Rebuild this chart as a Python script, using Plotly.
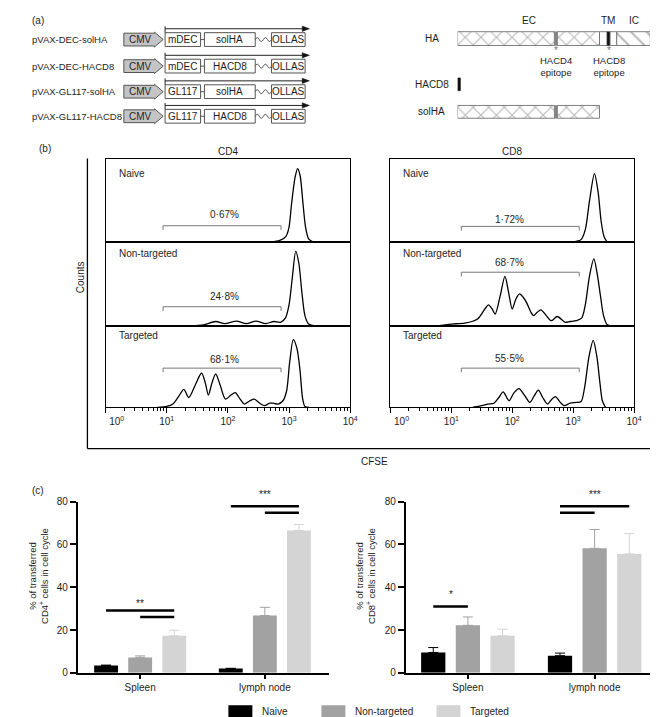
import math
import plotly.graph_objects as go

W, H = 658, 717
FONT = "Liberation Sans, Arial, Helvetica, sans-serif"
INK = "#1e1e1e"

# ------------------------------------------------------------------ (a) data
CONSTRUCT_NAMES = ["pVAX-DEC-solHA", "pVAX-DEC-HACD8", "pVAX-GL117-solHA", "pVAX-GL117-HACD8"]
CONSTRUCT_TARGETING = ["mDEC", "mDEC", "GL117", "GL117"]
CONSTRUCT_ANTIGEN = ["solHA", "HACD8", "solHA", "HACD8"]
PROMOTER = "CMV"
TAG = "OLLAS"

PROTEIN_NAMES = ["HA", "HACD8", "solHA"]
PROTEIN_SEGMENT_KINDS = [
    ["EC", "CD4ep", "EC", "TM", "CD8ep", "TM", "IC"],
    ["CD8ep"],
    ["EC", "CD4ep", "EC"],
]
PROTEIN_SEGMENT_LENGTHS = [
    [101, 3, 44, 8, 3, 7, 35],
    [3],
    [101, 3, 44],
]
REGION_OF_KIND = {"EC": "EC", "CD4ep": "EC", "TM": "TM", "CD8ep": "TM", "IC": "IC"}
REGION_LABELS = ["EC", "TM", "IC"]
EPITOPE_KINDS = ["CD4ep", "CD8ep"]
EPITOPE_LABELS = ["HACD4<br>epitope", "HACD8<br>epitope"]

# ------------------------------------------------------------------ (b) data
GROUPS = ["Naive", "Non-targeted", "Targeted"]
CFSE_TICK_EXP = [0, 1, 2, 3, 4]

CD4_NAIVE_LOG = [2.70, 2.85, 2.95, 3.00, 3.04, 3.10, 3.14, 3.18, 3.23, 3.27, 3.32, 3.40]
CD4_NAIVE_H = [0.00, 0.02, 0.07, 0.18, 0.45, 0.78, 0.88, 0.80, 0.45, 0.18, 0.04, 0.00]

CD4_NONT_LOG = [1.40, 1.60, 1.80, 1.95, 2.14, 2.30, 2.46, 2.62, 2.75, 2.86, 2.94, 3.00, 3.05, 3.11, 3.16, 3.21, 3.26, 3.32, 3.40]
CD4_NONT_H = [0.00, 0.01, 0.05, 0.025, 0.055, 0.025, 0.055, 0.025, 0.05, 0.04, 0.09, 0.25, 0.55, 0.89, 0.75, 0.40, 0.12, 0.02, 0.00]

CD4_TARG_LOG = [0.85, 1.00, 1.10, 1.20, 1.28, 1.36, 1.47, 1.57, 1.63, 1.68, 1.74, 1.80, 1.87, 1.96, 2.05, 2.12, 2.20, 2.27, 2.36, 2.43,
                2.52, 2.60, 2.68, 2.74, 2.82, 2.90, 2.96, 3.01, 3.07, 3.13, 3.18, 3.22, 3.26, 3.33]
CD4_TARG_H = [0.00, 0.01, 0.04, 0.14, 0.22, 0.12, 0.28, 0.42, 0.30, 0.15, 0.30, 0.41, 0.28, 0.10, 0.15, 0.18, 0.10, 0.04, 0.08, 0.10,
              0.05, 0.02, 0.05, 0.05, 0.04, 0.08, 0.20, 0.55, 0.83, 0.72, 0.45, 0.12, 0.01, 0.00]

CD8_NAIVE_LOG = [2.90, 3.05, 3.13, 3.20, 3.27, 3.35, 3.41, 3.46, 3.51, 3.56]
CD8_NAIVE_H = [0.00, 0.01, 0.03, 0.15, 0.50, 0.82, 0.60, 0.25, 0.06, 0.00]

CD8_NONT_LOG = [0.80, 1.00, 1.22, 1.43, 1.55, 1.61, 1.67, 1.72, 1.80, 1.88, 1.94, 2.00, 2.06, 2.12, 2.18, 2.24, 2.30, 2.35, 2.41, 2.47,
                2.55, 2.64, 2.74, 2.87, 2.95, 3.05, 3.14, 3.20, 3.27, 3.34, 3.40, 3.45, 3.50, 3.56, 3.62]
CD8_NONT_H = [0.00, 0.02, 0.03, 0.08, 0.20, 0.25, 0.20, 0.14, 0.35, 0.59, 0.40, 0.20, 0.32, 0.38, 0.34, 0.27, 0.17, 0.12, 0.16, 0.19,
              0.13, 0.06, 0.11, 0.04, 0.05, 0.06, 0.09, 0.25, 0.60, 0.80, 0.60, 0.35, 0.12, 0.01, 0.00]

CD8_TARG_LOG = [1.35, 1.50, 1.60, 1.70, 1.78, 1.85, 1.91, 1.95, 2.03, 2.11, 2.20, 2.29, 2.36, 2.43, 2.50, 2.58, 2.65, 2.71, 2.78, 2.85,
                2.95, 3.05, 3.13, 3.19, 3.26, 3.33, 3.39, 3.44, 3.48, 3.53]
CD8_TARG_H = [0.00, 0.02, 0.04, 0.05, 0.12, 0.19, 0.12, 0.08, 0.18, 0.23, 0.15, 0.06, 0.14, 0.21, 0.12, 0.04, 0.10, 0.13, 0.07, 0.02,
              0.05, 0.06, 0.07, 0.25, 0.62, 0.82, 0.62, 0.30, 0.08, 0.00]

CD4_GATE = [8.7, 740]
CD8_GATE = [14.6, 1260]
CD4_PCT = ["0·67%", "24·8%", "68·1%"]
CD8_PCT = ["1·72%", "68·7%", "55·5%"]

# ------------------------------------------------------------------ (c) data
TISSUES = ["Spleen", "lymph node"]
CD4_NAIVE_MEAN = [3.4, 2.0]
CD4_NONT_MEAN = [7.2, 26.8]
CD4_TARG_MEAN = [17.3, 66.5]
CD4_NAIVE_SEM = [0.2, 0.1]
CD4_NONT_SEM = [0.7, 3.8]
CD4_TARG_SEM = [2.6, 2.8]

CD8_NAIVE_MEAN = [9.5, 8.0]
CD8_NONT_MEAN = [22.2, 58.2]
CD8_TARG_MEAN = [17.3, 55.6]
CD8_NAIVE_SEM = [2.3, 1.2]
CD8_NONT_SEM = [3.9, 8.8]
CD8_TARG_SEM = [3.1, 9.5]

# significance: (tissue index, group a, group b, bar height)
CD4_SIG = [(0, 0, 2, 29.1), (0, 1, 2, 26.1), (1, 0, 2, 77.9), (1, 1, 2, 74.8)]
CD4_STARS = [(0, "**", 34.0), (1, "***", 84.6)]
CD8_SIG = [(0, 0, 1, 31.0), (1, 0, 2, 77.9), (1, 0, 1, 74.8)]
CD8_STARS = [(0, "*", 38.2), (1, "***", 84.6)]

GROUP_COLORS = ["#000000", "#a2a2a2", "#d4d4d4"]

# ------------------------------------------------------------------ helpers
def PX(x):
    return x / W


def PY(y):
    return 1 - y / H


def note(x, y, text, xref="paper", yref="paper", size=10, xanchor="center",
         yanchor="middle", color=INK, angle=0, **kw):
    d = dict(x=x, y=y, text=text, xref=xref, yref=yref, showarrow=False,
             font=dict(family=FONT, size=size, color=color),
             xanchor=xanchor, yanchor=yanchor, textangle=angle)
    d.update(kw)
    return d


fig = go.Figure()
shapes = []
annotations = []
layout = dict(
    width=W, height=H, margin=dict(l=0, r=0, t=0, b=0),
    paper_bgcolor="white", plot_bgcolor="white", showlegend=False,
    barmode="group", bargap=0.18, bargroupgap=0.3,
    font=dict(family=FONT, size=10, color=INK),
)

# ------------------------------------------------------------------ (a) constructs
ROW_Y = [26, 53, 79, 104]
BOX_LINE = dict(color="#555555", width=1)
for i, name in enumerate(CONSTRUCT_NAMES):
    yc = ROW_Y[i]
    annotations.append(note(PX(3), PY(yc), name, xanchor="left", size=9.5))
    pts = [(101, yc - 6.5), (133, yc - 6.5), (133, yc - 7.5), (142, yc), (133, yc + 7.5),
           (133, yc + 6.5), (101, yc + 6.5)]
    path = "M" + " L".join(f"{PX(a):.5f},{PY(b):.5f}" for a, b in pts) + " Z"
    shapes.append(dict(type="path", path=path, xref="paper", yref="paper",
                       fillcolor="#c4c4c4", line=dict(color="#555555", width=1)))
    annotations.append(note(PX(118), PY(yc), PROMOTER, size=10))
    for (x0, x1, txt) in [(144, 181, CONSTRUCT_TARGETING[i]), (185, 238, CONSTRUCT_ANTIGEN[i]), (255, 290, TAG)]:
        shapes.append(dict(type="rect", xref="paper", yref="paper", x0=PX(x0), x1=PX(x1),
                           y0=PY(yc - 7), y1=PY(yc + 7), fillcolor="white", line=BOX_LINE))
        annotations.append(note(PX((x0 + x1) / 2), PY(yc), txt, size=10))
    shapes.append(dict(type="line", xref="paper", yref="paper", x0=PX(181), x1=PX(185),
                       y0=PY(yc), y1=PY(yc), line=BOX_LINE))
    wp = f"M{PX(238):.5f},{PY(yc):.5f}"
    xs = 238
    for k in range(4):
        dy = -4 if k % 2 == 0 else 4
        wp += f" Q{PX(xs + 2.1):.5f},{PY(yc + dy):.5f} {PX(xs + 4.25):.5f},{PY(yc):.5f}"
        xs += 4.25
    shapes.append(dict(type="path", path=wp, xref="paper", yref="paper", line=BOX_LINE))
    shapes.append(dict(type="line", xref="paper", yref="paper", x0=PX(144), x1=PX(144),
                       y0=PY(yc - 13.5), y1=PY(yc - 7), line=dict(color="#222", width=1)))
    shapes.append(dict(type="line", xref="paper", yref="paper", x0=PX(144), x1=PX(288),
                       y0=PY(yc - 11), y1=PY(yc - 11), line=dict(color="#222", width=1)))
    tri = (f"M{PX(287):.5f},{PY(yc - 13.7):.5f} L{PX(294.5):.5f},{PY(yc - 11):.5f} "
           f"L{PX(287):.5f},{PY(yc - 8.3):.5f} Z")
    shapes.append(dict(type="path", path=tri, xref="paper", yref="paper",
                       fillcolor="#111", line=dict(color="#111", width=0.5)))

# ------------------------------------------------------------------ (a) proteins
PROT_X0, PROT_X1 = 449, 650          # pixel extent of the protein axis
PROT_RANGE = [0, 201]
PROTEIN_ROW_Y = [25, 71.5, 99.5]
PROTEIN_BAR_H = [14, 13, 13]
PROTEIN_LABEL_X = 422
HATCH = dict(fgcolor="#6e6e6e", bgcolor="white", size=11, solidity=0.18)
SEG_STYLE = {
    "EC": dict(color="white", pattern=dict(shape="x", **HATCH), line=dict(color="#707070", width=0.9)),
    "CD4ep": dict(color="#858585", line=dict(color="#858585", width=0.5)),
    "TM": dict(color="white", line=dict(color="#707070", width=0.9)),
    "CD8ep": dict(color="#111111", line=dict(color="#111111", width=0.5)),
    "IC": dict(color="white", pattern=dict(shape="\\", **HATCH), line=dict(color="#707070", width=0.9)),
}


def prot_px(u):
    return PROT_X0 + (u - PROT_RANGE[0]) / (PROT_RANGE[1] - PROT_RANGE[0]) * (PROT_X1 - PROT_X0)


for pi, pname in enumerate(PROTEIN_NAMES):
    base = 0
    for kind, length in zip(PROTEIN_SEGMENT_KINDS[pi], PROTEIN_SEGMENT_LENGTHS[pi]):
        fig.add_trace(go.Bar(orientation="h", y=[PROTEIN_ROW_Y[pi]], x=[length], base=[base],
                             width=PROTEIN_BAR_H[pi], offset=-PROTEIN_BAR_H[pi] / 2,
                             marker=SEG_STYLE[kind], xaxis="x9", yaxis="y9",
                             hoverinfo="skip"))
        base += length
    annotations.append(note(PX(PROTEIN_LABEL_X), PY(PROTEIN_ROW_Y[pi]), pname, size=10))

ha_kinds, ha_len = PROTEIN_SEGMENT_KINDS[0], PROTEIN_SEGMENT_LENGTHS[0]
starts = [sum(ha_len[:j]) for j in range(len(ha_len))]
for reg in REGION_LABELS:
    lo = min(s for s, k in zip(starts, ha_kinds) if REGION_OF_KIND[k] == reg)
    hi = max(s + l for s, l, k in zip(starts, ha_len, ha_kinds) if REGION_OF_KIND[k] == reg)
    annotations.append(note(PX(prot_px((lo + hi) / 2)), PY(7), reg, size=10))
for ek, elab in zip(EPITOPE_KINDS, EPITOPE_LABELS):
    j = ha_kinds.index(ek)
    cx = prot_px(starts[j] + ha_len[j] / 2)
    annotations.append(note(PX(cx), PY(37), "*", size=10, color="#777"))
    annotations.append(note(PX(cx), PY(53), elab, size=9.5))

layout["xaxis9"] = dict(domain=[PX(PROT_X0), PX(PROT_X1)], range=PROT_RANGE, visible=False, anchor="y9")
layout["yaxis9"] = dict(domain=[PY(120), PY(0)], range=[120, 0], visible=False, anchor="x9")

# ------------------------------------------------------------------ (b) histograms
HISTS = [
    [(CD4_NAIVE_LOG, CD4_NAIVE_H), (CD4_NONT_LOG, CD4_NONT_H), (CD4_TARG_LOG, CD4_TARG_H)],
    [(CD8_NAIVE_LOG, CD8_NAIVE_H), (CD8_NONT_LOG, CD8_NONT_H), (CD8_TARG_LOG, CD8_TARG_H)],
]
GATES = [CD4_GATE, CD8_GATE]
PCTS = [CD4_PCT, CD8_PCT]
TITLES = ["CD4", "CD8"]
COL_X = [(82, 337), (379, 633)]
ROW_YS = [(147, 232), (232, 317), (317, 400)]
GATE_H = [[0.196, 0.227, 0.48], [0.188, 0.64, 0.48]]
PCT_H = [[0.333, 0.345, 0.58], [0.275, 0.753, 0.60]]
PCT_LOGX = [1.94, 1.96]
GROUP_LABEL_H = [0.82, 0.86, 0.88]

MAJOR = [10 ** e for e in CFSE_TICK_EXP]
MAJOR_TXT = [("\u00a0" * 8 if j == 0 else "") + f"10<sup>{e}</sup>" for j, e in enumerate(CFSE_TICK_EXP)]
MINOR = [m * 10 ** e for e in CFSE_TICK_EXP[:-1] for m in range(2, 10)]

for c in range(2):
    for r in range(3):
        k = c * 3 + r + 1
        xk = "x" if k == 1 else f"x{k}"
        yk = "y" if k == 1 else f"y{k}"
        xa = "xaxis" if k == 1 else f"xaxis{k}"
        ya = "yaxis" if k == 1 else f"yaxis{k}"
        xd = dict(type="log", range=[0, 4], domain=[PX(COL_X[c][0]), PX(COL_X[c][1])], anchor=yk,
                  showline=True, linecolor="black", linewidth=1.2, mirror=True,
                  showgrid=False, zeroline=False)
        if r == 2:
            xd.update(tickmode="array", tickvals=MAJOR, ticktext=MAJOR_TXT, ticks="outside",
                      ticklen=5, tickwidth=1, tickcolor="black",
                      tickfont=dict(family=FONT, size=10, color=INK),
                      minor=dict(tickmode="array", tickvals=MINOR, ticks="outside", ticklen=3,
                                 tickwidth=0.8, tickcolor="black", showgrid=False))
        else:
            xd.update(showticklabels=False, ticks="")
        layout[xa] = xd
        layout[ya] = dict(range=[0, 1], domain=[PY(ROW_YS[r][1]), PY(ROW_YS[r][0])], anchor=xk,
                          showline=True, linecolor="black", linewidth=1.2, mirror=True,
                          showgrid=False, zeroline=False, showticklabels=False, ticks="")
        lx, hy = HISTS[c][r]
        fig.add_trace(go.Scatter(x=[10 ** v for v in lx], y=hy, mode="lines",
                                 line=dict(color="black", width=1.3, shape="spline", smoothing=0.8),
                                 xaxis=xk, yaxis=yk, hoverinfo="skip"))
        g0, g1 = GATES[c]
        gh = GATE_H[c][r]
        fig.add_trace(go.Scatter(x=[g0, g0, g1, g1], y=[gh - 0.05, gh, gh, gh - 0.05], mode="lines",
                                 line=dict(color="#777777", width=1), xaxis=xk, yaxis=yk,
                                 hoverinfo="skip"))
        annotations.append(note(PCT_LOGX[c], PCT_H[c][r], PCTS[c][r], xref=xk, yref=yk, size=10))
        annotations.append(note(0.045, GROUP_LABEL_H[r], GROUPS[r], xref=f"{xk} domain",
                                yref=f"{yk} domain", xanchor="left", size=10))
    annotations.append(note(PX((COL_X[c][0] + COL_X[c][1]) / 2), PY(140), TITLES[c], size=10))

shapes.append(dict(type="line", xref="paper", yref="paper", x0=PX(63), x1=PX(63),
                   y0=PY(147), y1=PY(442), line=dict(color="black", width=1.3)))
shapes.append(dict(type="line", xref="paper", yref="paper", x0=PX(63), x1=PX(658),
                   y0=PY(442), y1=PY(442), line=dict(color="black", width=1.3)))
annotations.append(note(PX(56), PY(268), "Counts", size=10, angle=-90))
annotations.append(note(PX(362), PY(455), "CFSE", size=10))

# ------------------------------------------------------------------ (c) bars
BARGAP = layout["bargap"]
SLOT = (1 - BARGAP) / len(GROUPS)
TPOS = list(range(len(TISSUES)))
Y_MAX = 80
PANELS_C = [
    ("x7", "y7", [CD4_NAIVE_MEAN, CD4_NONT_MEAN, CD4_TARG_MEAN], [CD4_NAIVE_SEM, CD4_NONT_SEM, CD4_TARG_SEM],
     CD4_SIG, CD4_STARS, (53, 315), [-0.5, 1.515], "% of transferred<br>CD4<sup>+</sup> cells in cell cycle", 12),
    ("x8", "y8", [CD8_NAIVE_MEAN, CD8_NONT_MEAN, CD8_TARG_MEAN], [CD8_NAIVE_SEM, CD8_NONT_SEM, CD8_TARG_SEM],
     CD8_SIG, CD8_STARS, (395, 658), [-0.49, 1.5], "% of transferred<br>CD8<sup>+</sup> cells in cell cycle", 353),
]
for xk, yk, means, sems, sigs, stars, xpx, xr, ytitle, title_x in PANELS_C:
    for gi, g in enumerate(GROUPS):
        fig.add_trace(go.Bar(x=TPOS, y=means[gi], name=g, offsetgroup=g,
                             marker=dict(color=GROUP_COLORS[gi], line=dict(width=0)),
                             error_y=dict(type="data", array=sems[gi], arrayminus=[0] * len(TPOS),
                                          symmetric=False, color=GROUP_COLORS[gi], thickness=1, width=5),
                             xaxis=xk, yaxis=yk, hoverinfo="skip"))
    for (t, a, b, h) in sigs:
        xa_ = TPOS[t] + (a - 1) * SLOT
        xb_ = TPOS[t] + (b - 1) * SLOT
        fig.add_trace(go.Scatter(x=[xa_, xb_], y=[h, h], mode="lines",
                                 line=dict(color="black", width=2.6), xaxis=xk, yaxis=yk,
                                 hoverinfo="skip"))
    for (t, txt, h) in stars:
        first = [s for s in sigs if s[0] == t][0]
        cx = TPOS[t] + ((first[1] - 1) + (first[2] - 1)) / 2 * SLOT
        annotations.append(note(cx, h / Y_MAX, txt, xref=xk, yref=f"{yk} domain", size=10, yshift=-3))
    layout["xaxis" + xk[1:]] = dict(domain=[PX(xpx[0]), PX(xpx[1])], range=xr, anchor=yk,
                                    tickmode="array", tickvals=TPOS, ticktext=TISSUES,
                                    ticks="outside", ticklen=4, tickwidth=1.5, tickcolor="black",
                                    showline=True, linecolor="black", linewidth=2,
                                    showgrid=False, zeroline=False,
                                    tickfont=dict(family=FONT, size=10, color=INK))
    layout["yaxis" + yk[1:]] = dict(domain=[PY(670), PY(496)], range=[0, Y_MAX], anchor=xk,
                                    tickmode="array", tickvals=[0, 20, 40, 60, 80],
                                    ticks="outside", ticklen=6, tickwidth=1.5, tickcolor="black",
                                    showline=True, linecolor="black", linewidth=2,
                                    showgrid=False, zeroline=False,
                                    tickfont=dict(family=FONT, size=10, color=INK))
    annotations.append(note(PX(title_x), PY(572), ytitle, size=9.5, angle=-90))

LEG_BOX_X = [210, 307, 427]
for gi, g in enumerate(GROUPS):
    x0 = LEG_BOX_X[gi]
    shapes.append(dict(type="rect", xref="paper", yref="paper", x0=PX(x0), x1=PX(x0 + 25),
                       y0=PY(703), y1=PY(716), fillcolor=GROUP_COLORS[gi], line=dict(width=0)))
    annotations.append(note(PX(x0 + 33), PY(709.5), g, xanchor="left", size=10))

annotations.append(note(PX(3), PY(7), "(a)", xanchor="left", size=10))
annotations.append(note(PX(10), PY(137), "(b)", xanchor="left", size=10))
annotations.append(note(PX(3), PY(485), "(c)", xanchor="left", size=10))

layout["shapes"] = shapes
layout["annotations"] = annotations
fig.update_layout(**layout)
fig.write_html("out.html")
